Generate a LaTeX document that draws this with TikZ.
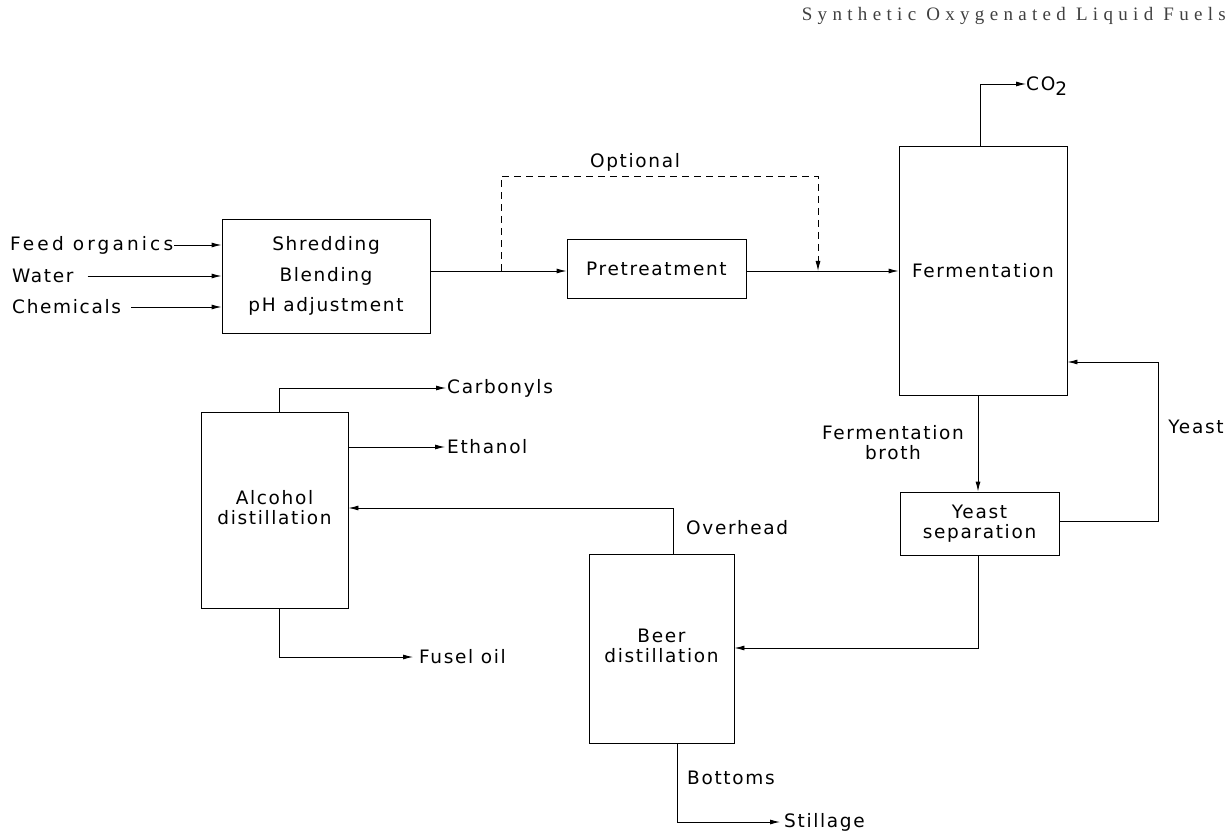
\documentclass[tikz,border=0pt]{standalone}
\usepackage{fontspec}
\setmainfont{DejaVu Sans}[LetterSpace=9]
\newfontfamily\hdrfont{Liberation Serif}[LetterSpace=28]
\usetikzlibrary{arrows.meta,calc}
\newcommand{\twoline}[3]{\raisebox{#3}{\begin{tabular}{@{}c@{}}#1\\#2\end{tabular}}}
\begin{document}
\begin{tikzpicture}[x=1pt,y=-1pt,
  font=\fontsize{18.5}{20}\selectfont,
  box/.style={draw,line width=0.9pt,inner sep=0pt,align=center},
  lbl/.style={inner sep=0pt,align=center},
  flow/.style={line width=0.9pt,-{Latex[length=10pt,width=5pt]}},
  dflow/.style={line width=0.9pt,dash pattern=on 7pt off 5pt,-{Latex[length=10pt,width=5pt]}}]
\useasboundingbox (0,0) rectangle (1231,834);
% header
\node[lbl,anchor=east,font=\hdrfont\fontsize{19}{20}\selectfont,text=black!75] (hdr) at (1226,16) {Synthetic Oxygenated Liquid Fuels};
% boxes
\node[box,minimum width=208pt,minimum height=114pt,font=\fontsize{18.5}{30.5}\selectfont] (shred) at (326,276) {Shredding\\Blending\\pH adjustment};
\node[box,minimum width=179pt,minimum height=59pt] (pre) at (656.5,268.5) {Pretreatment};
\node[box,minimum width=168pt,minimum height=249pt] (ferm) at (983,271) {Fermentation};
\node[box,minimum width=159pt,minimum height=63pt] (ysep) at (979.5,523.5) {Yeast\\separation};
\node[box,minimum width=145pt,minimum height=189pt] (beer) at (661.5,648.5) {\twoline{Beer}{distillation}{-5pt}};
\node[box,minimum width=147pt,minimum height=196pt] (alc) at (274.5,510) {\twoline{Alcohol}{distillation}{-7pt}};
% labels
\node[lbl,anchor=west] (feed) at (10,245) {\addfontfeature{LetterSpace=17}Feed organics};
\node[lbl,anchor=west] (water) at (12,276) {Water};
\node[lbl,anchor=west] (chem) at (12,307) {Chemicals};
\node[lbl] (opt) at (635,162) {Optional};
\node[lbl,anchor=west] (co2) at (1026,86) {CO\raisebox{-5pt}{2}};
\node[lbl] (broth) at (893,443) {Fermentation\\broth};
\node[lbl] (yeast) at (1196,427) {Yeast};
\node[lbl,anchor=west] (over) at (686,528) {Overhead};
\node[lbl,anchor=west] (bott) at (687,778) {Bottoms};
\node[lbl,anchor=west] (still) at (784,822) {Stillage};
\node[lbl,anchor=west] (carb) at (447,388) {Carbonyls};
\node[lbl,anchor=west] (eth) at (447,447) {Ethanol};
\node[lbl,anchor=west] (fusel) at (419,657) {Fusel oil};
% coordinates
\coordinate (j1) at (501,271);
\coordinate (j2) at (818,271);
\coordinate (d1) at (501,176);
\coordinate (d2) at (818,176);
\coordinate (c1) at (980,84);
\coordinate (y1) at (1158,521);
\coordinate (y2) at (1158,362);
\coordinate (b1) at (978,648);
\coordinate (o1) at (673,508);
\coordinate (s1) at (677,822);
\coordinate (a1) at (279,388);
\coordinate (a2) at (279,657);
% inputs
\draw[flow] ([xshift=1pt]feed.east) -- (feed.east -| shred.west);
\draw[flow] ([xshift=14pt]water.east) -- (water.east -| shred.west);
\draw[flow] ([xshift=10pt]chem.east) -- (chem.east -| shred.west);
% main line
\draw[flow] (shred.east |- j1) -- (pre.west |- j1);
\draw[dflow] (j1) -- (d1) -- (d2) -- (j2);
\draw[flow] (pre.east |- j1) -- (ferm.west |- j1);
% CO2
\draw[flow] (ferm.north -| c1) -- (c1) -- (co2.west |- c1);
% broth
\draw[flow] (ferm.south -| b1) -- (ysep.north -| b1);
% yeast recycle
\draw[flow] (ysep.east |- y1) -- (y1) -- (y2) -- (ferm.east |- y2);
% to beer
\draw[flow] (ysep.south -| b1) -- (b1) -- (beer.east |- b1);
% overhead
\draw[flow] (beer.north -| o1) -- (o1) -- (alc.east |- o1);
% bottoms
\draw[flow] (beer.south -| s1) -- (s1) -- ([xshift=-4pt]still.west |- s1);
% alcohol outputs
\draw[flow] (alc.north -| a1) -- (a1) -- ([xshift=-1pt]carb.west |- a1);
\draw[flow] (alc.east |- eth) -- ([xshift=-2pt]eth.west);
\draw[flow] (alc.south -| a2) -- (a2) -- ([xshift=-6pt]fusel.west |- a2);
\end{tikzpicture}
\end{document}
